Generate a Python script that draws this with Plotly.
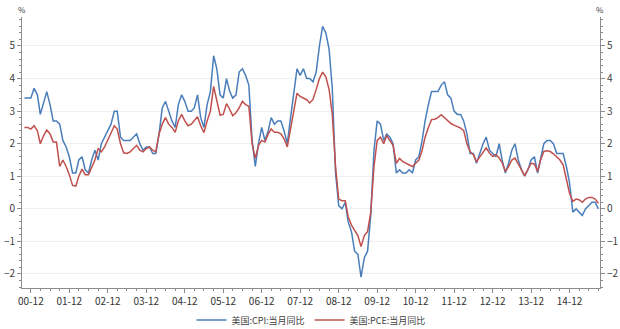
import pandas as pd
import plotly.graph_objects as go

# Monthly data, 2000-10 .. 2015-09
start_month = "2000-10-01"

cpi = [
    3.4, 3.4, 3.4,
    3.7, 3.5, 2.9, 3.3, 3.6, 3.2, 2.7, 2.7, 2.6, 2.1, 1.9, 1.6,
    1.1, 1.1, 1.5, 1.6, 1.2, 1.1, 1.5, 1.8, 1.5, 2.0, 2.2, 2.4,
    2.6, 3.0, 3.0, 2.2, 2.1, 2.1, 2.1, 2.2, 2.3, 2.0, 1.8, 1.9,
    1.9, 1.7, 1.7, 2.3, 3.1, 3.3, 3.0, 2.7, 2.5, 3.2, 3.5, 3.3,
    3.0, 3.0, 3.1, 3.5, 2.8, 2.5, 3.2, 3.6, 4.7, 4.3, 3.5, 3.4,
    4.0, 3.6, 3.4, 3.5, 4.2, 4.3, 4.1, 3.8, 2.1, 1.3, 2.0, 2.5,
    2.1, 2.4, 2.8, 2.6, 2.7, 2.7, 2.4, 2.0, 2.8, 3.5, 4.3, 4.1,
    4.3, 4.0, 4.0, 3.9, 4.2, 5.0, 5.6, 5.4, 4.9, 3.7, 1.1, 0.1,
    0.0, 0.2, -0.4, -0.7, -1.3, -1.4, -2.1, -1.5, -1.3, -0.2, 1.8, 2.7,
    2.6, 2.1, 2.3, 2.2, 2.0, 1.1, 1.2, 1.1, 1.1, 1.2, 1.1, 1.5,
    1.6, 2.1, 2.7, 3.2, 3.6, 3.6, 3.6, 3.8, 3.9, 3.5, 3.4, 3.0,
    2.9, 2.9, 2.7, 2.3, 1.7, 1.7, 1.4, 1.7, 2.0, 2.2, 1.8, 1.7,
    1.6, 2.0, 1.5, 1.1, 1.4, 1.8, 2.0, 1.5, 1.2, 1.0, 1.2, 1.5,
    1.6, 1.1, 1.5, 2.0, 2.1, 2.1, 2.0, 1.7, 1.7, 1.7, 1.3, 0.8,
    -0.1, 0.0, -0.1, -0.2, 0.0, 0.1, 0.2, 0.2, 0.0,
]

pce = [
    2.5, 2.5, 2.45,
    2.55, 2.4, 2.0, 2.25, 2.42, 2.3, 2.05, 2.05, 1.3, 1.5, 1.3, 1.05,
    0.72, 0.7, 1.0, 1.22, 1.05, 1.05, 1.3, 1.5, 1.85, 1.75, 1.9, 2.1,
    2.3, 2.55, 2.45, 2.0, 1.72, 1.7, 1.75, 1.85, 1.95, 1.8, 1.75, 1.85,
    1.9, 1.8, 1.75, 2.3, 2.6, 2.8, 2.6, 2.5, 2.35, 2.7, 2.9, 2.7,
    2.55, 2.6, 2.7, 2.83, 2.55, 2.34, 2.7, 3.0, 3.76, 3.3, 2.88, 2.9,
    3.23, 3.05, 2.86, 2.95, 3.1, 3.3, 3.2, 3.15, 2.0, 1.55, 1.95, 2.1,
    2.05, 2.3, 2.45, 2.35, 2.35, 2.3, 2.15, 1.9, 2.5, 3.0, 3.55, 3.45,
    3.4, 3.35, 3.25, 3.36, 3.66, 4.0, 4.2, 4.05, 3.66, 2.9, 1.3, 0.3,
    0.25, 0.25, -0.24, -0.5, -0.66, -0.82, -1.16, -0.82, -0.7, -0.1, 1.3, 2.1,
    2.2, 2.0, 2.25, 2.1, 1.95, 1.4, 1.55, 1.45, 1.4, 1.35, 1.3, 1.4,
    1.5, 1.8, 2.2, 2.5, 2.74, 2.75, 2.8, 2.89, 2.8, 2.72, 2.62, 2.57,
    2.52, 2.48, 2.4, 2.0, 1.76, 1.66, 1.45, 1.6, 1.76, 1.87, 1.71, 1.61,
    1.66, 1.56, 1.42, 1.15, 1.3, 1.5, 1.56, 1.4, 1.2, 1.02, 1.2, 1.4,
    1.38, 1.15, 1.5, 1.76, 1.78, 1.76, 1.69, 1.59, 1.5, 1.35, 0.89, 0.48,
    0.23, 0.3, 0.28, 0.2, 0.3, 0.35, 0.35, 0.3, 0.17,
]

series_names = ["美国:CPI:当月同比", "美国:PCE:当月同比"]
tick_labels = ["00-12", "01-12", "02-12", "03-12", "04-12", "05-12", "06-12", "07-12",
               "08-12", "09-12", "10-12", "11-12", "12-12", "13-12", "14-12"]
y_ticks = [-2, -1, 0, 1, 2, 3, 4, 5]

dates = pd.date_range(start_month, periods=len(cpi), freq="MS")
tick_vals = pd.date_range("2000-12-01", periods=len(tick_labels), freq="12MS")

BLUE = "#4A7EBB"
RED = "#C0504D"
FONT = "Noto Sans CJK SC"
TXT = "#404040"
AX = "#8C8C8C"
YR = [-2.43, 5.89]

fig = go.Figure()
fig.add_trace(go.Scatter(x=dates, y=cpi, mode="lines", name=series_names[0],
                         line=dict(color=BLUE, width=1.5)))
fig.add_trace(go.Scatter(x=dates, y=pce, mode="lines", name=series_names[1],
                         line=dict(color=RED, width=1.5), yaxis="y2"))

yax = dict(range=YR, tickmode="array", tickvals=y_ticks, ticks="outside", ticklen=4,
           tickcolor=AX, showline=True, linecolor=AX, linewidth=1,
           tickfont=dict(family=FONT, size=10, color=TXT), zeroline=False,
           minor=dict(dtick=0.2, tick0=0, ticks="outside", ticklen=2, tickcolor=AX, showgrid=False))

fig.update_layout(
    width=620, height=329,
    margin=dict(l=22, r=20, t=17, b=41, autoexpand=False),
    paper_bgcolor="white", plot_bgcolor="white",
    font=dict(family=FONT, size=10, color=TXT),
    xaxis=dict(range=["2000-09-08", "2015-09-16"], tickmode="array", tickvals=tick_vals,
               ticktext=tick_labels, ticks="outside", ticklen=4, tickcolor=AX,
               showline=True, linecolor=AX, linewidth=1, showgrid=False, zeroline=False,
               tickfont=dict(family=FONT, size=10, color="#333333"),
               minor=dict(dtick="M3", tick0="2000-12-01", ticks="outside", ticklen=2,
                          tickcolor=AX, showgrid=False)),
    yaxis=dict(**yax, side="left", showgrid=True, gridcolor="#F0F0F0", gridwidth=1),
    yaxis2=dict(**yax, side="right", overlaying="y", showgrid=False),
    legend=dict(orientation="h", x=0.5, xanchor="center", xref="paper",
                y=9 / 329, yanchor="middle", yref="container",
                font=dict(family=FONT, size=9, color=TXT), itemwidth=30,
                bgcolor="rgba(0,0,0,0)"),
    showlegend=True,
)

fig.add_annotation(text="%", xref="paper", yref="paper", x=0, y=1, xanchor="center",
                   yanchor="bottom", showarrow=False, font=dict(size=8, color=TXT, family=FONT))
fig.add_annotation(text="%", xref="paper", yref="paper", x=1, y=1, xanchor="center",
                   yanchor="bottom", showarrow=False, font=dict(size=8, color=TXT, family=FONT))

fig.write_html("out.html")
